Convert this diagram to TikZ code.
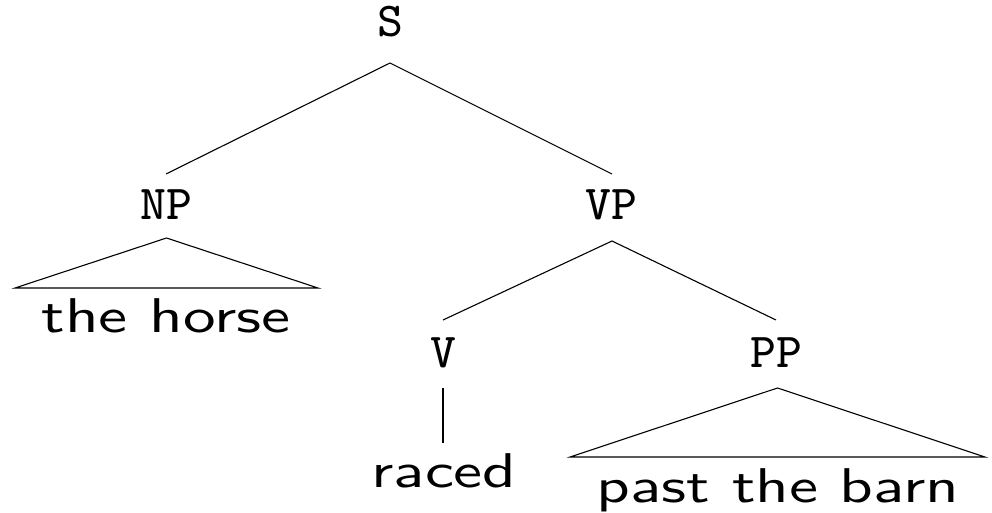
\documentclass[tikz,border=0pt]{standalone}
\usepackage{graphicx}
\newcommand\catlab[1]{\scalebox{6.1}{\fontsize{8}{9.6}\selectfont\ttfamily #1}}
\newcommand\leaflab[1]{\scalebox{6.52}[4.88]{\fontsize{10}{12}\selectfont\sffamily #1}}
\tikzset{
  cat/.style={inner sep=0pt, anchor=base},
  edge/.style={line width=1.1pt, line join=miter}
}
\begin{document}
\begin{tikzpicture}[x=1pt,y=-1pt]
\useasboundingbox (0,0) rectangle (992,513);
% labels
\node[cat] (S) at (390,37) {\catlab{S}};
\node[cat] (NP) at (166.5,219) {\catlab{NP}};
\node[cat] (VP) at (611,219) {\catlab{VP}};
\node[cat] (V) at (443,367) {\catlab{V}};
\node[cat] (PP) at (776,367) {\catlab{PP}};
\node[cat] (horse) at (166,332) {\leaflab{the horse}};
\node[cat] (raced) at (444,487) {\leaflab{raced}};
\node[cat] (barn) at (778,502) {\leaflab{past the barn}};
% connector end points
\coordinate (S-b) at (390,63);
\coordinate (NP-t) at (166,174);
\coordinate (VP-t) at (612,174);
\coordinate (NP-b) at (166.5,238);
\coordinate (NP-l) at (15,288);
\coordinate (NP-r) at (318,288);
\coordinate (VP-b) at (612,241);
\coordinate (V-t) at (443,320);
\coordinate (PP-t) at (776,320);
\coordinate (V-b) at (443,388);
\coordinate (raced-t) at (443,443);
\coordinate (PP-b) at (777.5,388);
\coordinate (PP-l) at (570,457);
\coordinate (PP-r) at (985,457);
% edges
\draw[edge] (NP-t) -- (S-b) -- (VP-t);
\draw[edge] (NP-l) -- (NP-b) -- (NP-r) -- cycle;
\draw[edge] (V-t) -- (VP-b) -- (PP-t);
\draw[edge] (V-b) -- (raced-t);
\draw[edge] (PP-l) -- (PP-b) -- (PP-r) -- cycle;
\end{tikzpicture}
\end{document}
